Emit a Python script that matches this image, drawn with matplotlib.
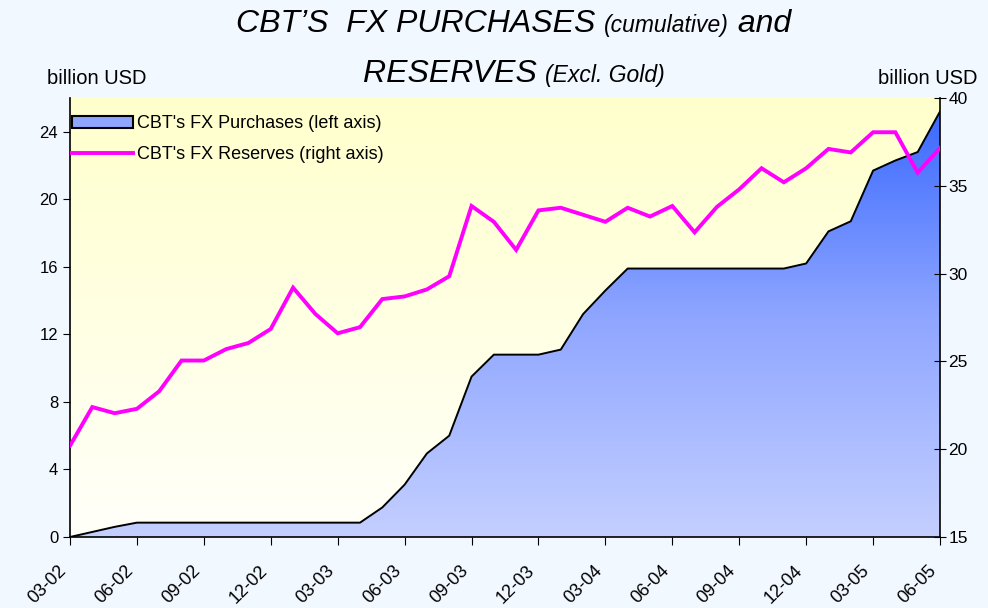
import numpy as np
import matplotlib
matplotlib.use("Agg")
import matplotlib.pyplot as plt
import matplotlib.patches as mpatches
import matplotlib.transforms as mtransforms
from matplotlib.lines import Line2D
from matplotlib.colors import LinearSegmentedColormap
from matplotlib.offsetbox import TextArea, HPacker, AnnotationBbox

plt.rcParams['font.family'] = ['Liberation Sans', 'DejaVu Sans']

# monthly data, 03-02 .. 06-05
tick_labels = ['03-02', '06-02', '09-02', '12-02', '03-03', '06-03', '09-03',
               '12-03', '03-04', '06-04', '09-04', '12-04', '03-05', '06-05']

purchases = [0.0, 0.3, 0.6, 0.85, 0.85, 0.85, 0.85, 0.85, 0.85, 0.85,
             0.85, 0.85, 0.85, 0.85, 1.75, 3.1, 4.95, 6.0, 9.5, 10.8,
             10.8, 10.8, 11.1, 13.2, 14.6, 15.9, 15.9, 15.9, 15.9, 15.9,
             15.9, 15.9, 15.9, 16.2, 18.1, 18.7, 21.7, 22.3, 22.8, 25.2]

reserves = [20.2, 22.4, 22.05, 22.3, 23.3, 25.05, 25.05, 25.7, 26.05, 26.85,
            29.2, 27.7, 26.6, 26.95, 28.55, 28.7, 29.1, 29.85, 33.85, 32.95,
            31.35, 33.6, 33.75, 33.35, 32.95, 33.75, 33.25, 33.85, 32.35, 33.8,
            34.8, 36.0, 35.2, 36.0, 37.1, 36.9, 38.05, 38.05, 35.75, 37.15]

x = np.arange(len(purchases))

fig = plt.figure(figsize=(9.88, 6.08), dpi=100, facecolor='#F2F8FF')
ax = fig.add_axes([70/988, 71/608, 870/988, 439/608])
ax2 = ax.twinx()

ax.set_xlim(0, len(x) - 1)
ax.set_ylim(0, 26)
ax2.set_ylim(15, 40)

# yellow background gradient
bg = LinearSegmentedColormap.from_list('bg', ['#FFFFFA', '#FFFFCC'])
ax.imshow(np.linspace(0, 1, 256).reshape(-1, 1), cmap=bg, origin='lower',
          extent=[0, len(x) - 1, 0, 26], aspect='auto', zorder=0)

# purchases area with blue gradient
blue = LinearSegmentedColormap.from_list('blue', ['#C4CFFF', '#8FA6FF', '#3666FF'])
poly = ax.fill_between(x, 0, purchases, facecolor='none', edgecolor='none', zorder=1)
grad = ax.imshow(np.linspace(0, 1, 256).reshape(-1, 1), cmap=blue, origin='lower',
                 extent=[0, len(x) - 1, 0, 26], aspect='auto', zorder=1)
path = poly.get_paths()[0]
grad.set_clip_path(path, transform=ax.transData)
ax.plot(x, purchases, color='black', lw=1.4, zorder=2)

ax2.plot(x, reserves, color='#FF00FF', lw=2.8, zorder=3, solid_joinstyle='miter')

ax.set_xticks(x[::3])
ax.set_xticklabels(tick_labels, rotation=45, ha='right', va='top', fontsize=13)
shift = mtransforms.ScaledTranslation(-8/100, 0, fig.dpi_scale_trans)
for lab in ax.get_xticklabels():
    lab.set_transform(lab.get_transform() + shift)
ax.set_yticks(np.arange(0, 25, 4))
ax.tick_params(axis='y', labelsize=12, length=5, direction='out')
ax.tick_params(axis='x', length=6, direction='out', pad=12)
ax2.set_yticks(np.arange(15, 41, 5))
ax2.tick_params(axis='y', labelsize=12.5, length=8, direction='inout', pad=2)

for a in (ax, ax2):
    a.spines['top'].set_visible(False)
ax.spines['right'].set_visible(False)
ax.spines['left'].set_linewidth(1.2)
ax.spines['bottom'].set_linewidth(1.2)
ax2.spines['right'].set_linewidth(1.2)
ax2.spines['left'].set_visible(False)
ax2.spines['bottom'].set_visible(False)

handles = [mpatches.Patch(facecolor='#8FA6FF', edgecolor='black', lw=1.5),
           Line2D([], [], color='#FF00FF', lw=2.8)]
labels = ["CBT's FX Purchases (left axis)", "CBT's FX Reserves (right axis)"]
ax2.legend(handles, labels, loc='upper left', bbox_to_anchor=(0, 0.965),
           frameon=False, fontsize=13, handlelength=3.4, handletextpad=0.2,
           labelspacing=0.75, borderaxespad=0, borderpad=0.1, handleheight=0.65)

fig.text(97/988, 1 - 78/608, 'billion USD', ha='center', va='center', fontsize=14.5)
fig.text(928/988, 1 - 78/608, 'billion USD', ha='center', va='center', fontsize=14.5)


def title_line(parts, ypos):
    boxes = [TextArea(t, textprops=dict(fontsize=s, style='italic')) for t, s in parts]
    pack = HPacker(children=boxes, align='baseline', pad=0, sep=0)
    ab = AnnotationBbox(pack, (0.520, ypos), xycoords='figure fraction',
                        box_alignment=(0.5, 0.5), frameon=False)
    fig.add_artist(ab)


title_line([('CBT\u2019S  FX PURCHASES ', 23), ('(cumulative)', 16.5), (' and', 23)], 1 - 24/608)
title_line([('RESERVES ', 23), ('(Excl. Gold)', 16.5)], 1 - 74/608)

fig.savefig('out.png', dpi=100, facecolor=fig.get_facecolor())
